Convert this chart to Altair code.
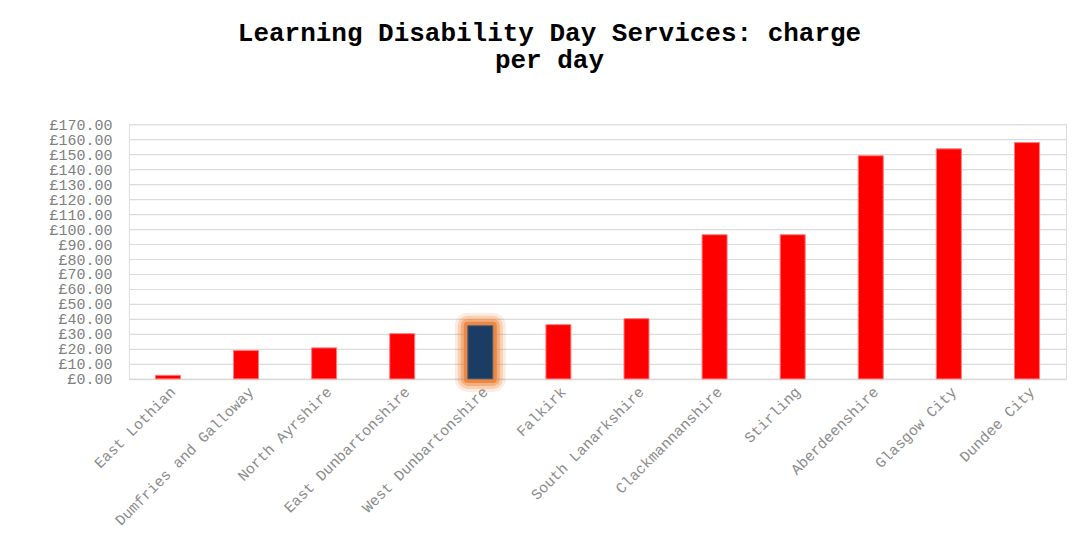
import altair as alt
import pandas as pd

categories = ["East Lothian", "Dumfries and Galloway", "North Ayrshire",
              "East Dunbartonshire", "West Dunbartonshire", "Falkirk",
              "South Lanarkshire", "Clackmannanshire", "Stirling",
              "Aberdeenshire", "Glasgow City", "Dundee City"]
values = [2.4, 18.9, 20.7, 30.2, 35.5, 36.2, 40.2, 96.2, 96.2, 148.9, 153.5, 157.7]
highlight = ["West Dunbartonshire"]
y_ticks = list(range(0, 171, 10))
title_lines = ["Learning Disability Day Services: charge", "per day"]

df = pd.DataFrame({"area": categories, "charge": values})
df["hl"] = df["area"].isin(highlight)

FONT = "Liberation Mono"

x = alt.X("area:N", sort=categories,
          scale=alt.Scale(paddingInner=0.68, paddingOuter=0.34),
          axis=alt.Axis(title=None, labelAngle=-45, labelFont=FONT, labelFontSize=15,
                        labelColor="#8c8c8c", ticks=False, domainColor="#d9d9d9",
                        domainWidth=1.5, labelPadding=5, labelOverlap=False,
                        labelLimit=400))
y = alt.Y("charge:Q", scale=alt.Scale(domain=[0, 170], nice=False),
          axis=alt.Axis(title=None, values=y_ticks,
                        labelExpr="'£' + format(datum.value, '.2f')",
                        labelFont=FONT, labelFontSize=15, labelColor="#7f7f7f",
                        labelOverlap=False,
                        grid=True, gridColor="#dcdcdc", gridWidth=1.2,
                        domain=False, ticks=False, labelPadding=17))

base = alt.Chart(df).encode(x=x, y=y)

glow_layers = []
for sw, op in [(26, 0.15), (20, 0.25), (14, 0.4), (8, 0.8)]:
    glow_layers.append(
        base.transform_filter("datum.hl").mark_bar(
            fill="#ED7D31", fillOpacity=0.0, stroke="#ED7D31",
            strokeWidth=sw, strokeOpacity=op, strokeJoin="round")
    )

bars = base.mark_bar(strokeWidth=1).encode(
    color=alt.condition("datum.hl", alt.value("#1b3c63"), alt.value("#ff0000")),
    stroke=alt.condition("datum.hl", alt.value("#4a6480"), alt.value("#ff7a7a")),
)

chart = alt.layer(*glow_layers, bars).properties(
    width=938, height=255,
    autosize="none",
    padding={"left": 121, "top": 116, "right": 10, "bottom": 150},
    title=alt.TitleParams(title_lines, font=FONT, fontSize=26, fontWeight="bold",
                          color="black", anchor="middle", lineHeight=27,
                          offset=44, dx=-48),
).configure_view(stroke=None).configure(background="white")

chart.save("out.html", embed_options={"renderer": "svg", "actions": False})
